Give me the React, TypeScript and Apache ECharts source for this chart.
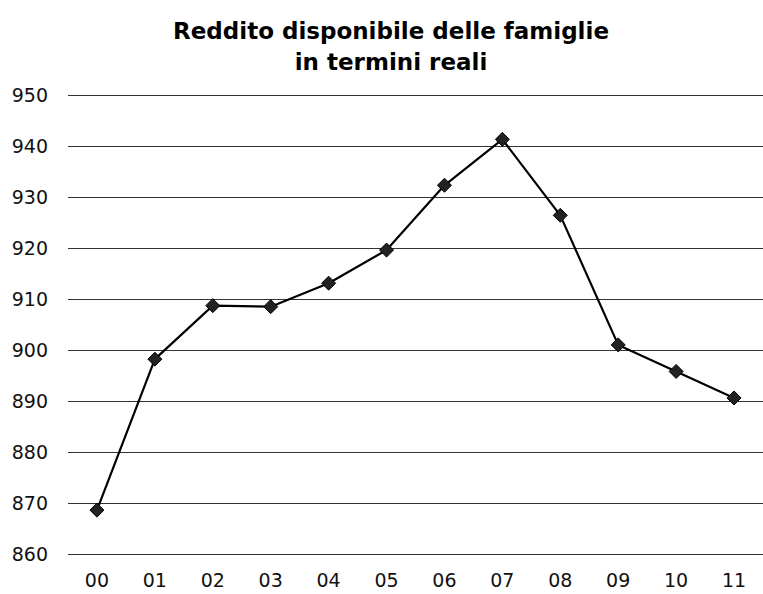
import React, { useEffect, useRef } from "react";
import * as echarts from "echarts";

const categories = ["00", "01", "02", "03", "04", "05", "06", "07", "08", "09", "10", "11"];
const values = [868.6, 898.2, 908.7, 908.5, 913.1, 919.6, 932.3, 941.3, 926.4, 901.0, 895.8, 890.6];
const titleText = "Reddito disponibile delle famiglie\nin termini reali";
const yMin = 860;
const yMax = 950;
const yStep = 10;

export default function App() {
  const ref = useRef<HTMLDivElement>(null);
  useEffect(() => {
    if (!ref.current) return;
    const chart = echarts.init(ref.current, null, { renderer: "svg" });
    const font = "'DejaVu Sans', Verdana, sans-serif";
    chart.setOption({
      animation: false,
      backgroundColor: "#ffffff",
      title: {
        text: titleText,
        left: 386,
        textAlign: "center",
        top: 10,
        textStyle: {
          fontFamily: font,
          fontWeight: "bold",
          fontSize: 23,
          lineHeight: 31,
          color: "#000",
        },
      },
      grid: { left: 68, top: 95, width: 707, height: 459, containLabel: false },
      xAxis: {
        type: "category",
        data: categories,
        boundaryGap: true,
        axisLine: { show: false },
        axisTick: { show: false },
        axisLabel: {
          fontFamily: font,
          fontSize: 19,
          color: "#111",
          margin: 16,
        },
      },
      yAxis: {
        type: "value",
        min: yMin,
        max: yMax,
        interval: yStep,
        axisLine: { show: false },
        axisTick: { show: false },
        axisLabel: {
          fontFamily: font,
          fontSize: 19,
          color: "#111",
          margin: 20,
        },
        splitLine: { lineStyle: { color: "#333", width: 1 } },
      },
      series: [
        {
          type: "line",
          data: values,
          symbol: "diamond",
          symbolSize: 14,
          lineStyle: { color: "#000", width: 2.2 },
          itemStyle: { color: "#222", borderColor: "#000", borderWidth: 1 },
        },
      ],
    });
    return () => chart.dispose();
  }, []);
  return (
    <div
      ref={ref}
      style={{ position: "fixed", left: 0, top: 0, width: 763, height: 594, background: "#fff" }}
    />
  );
}
